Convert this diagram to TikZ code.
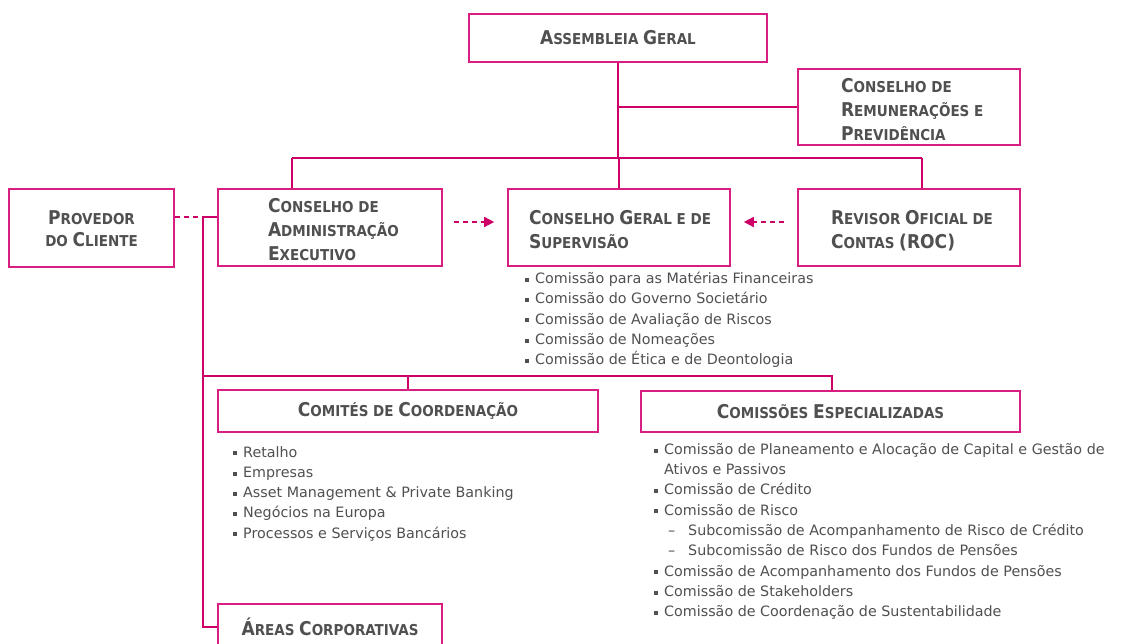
\documentclass[tikz,border=0pt]{standalone}
\usepackage{fontspec}
\setmainfont{DejaVu Sans}
\newfontfamily\ttlf{DejaVu Sans Condensed}
\usetikzlibrary{arrows.meta}
\definecolor{mag}{RGB}{204,0,102}
\definecolor{boxc}{RGB}{216,30,128}
\definecolor{txt}{RGB}{80,80,80}
\newcommand\BC[1]{{\fontsize{19}{24}\selectfont #1}}
\newcommand\itm{\makebox[10pt][l]{\rule[1.8pt]{4pt}{4pt}}}
\newcommand\subitm{\makebox[34pt][l]{\hspace*{14pt}\textendash}}
\newcommand\lbox[2]{\makebox[#1][l]{\begin{tabular}[t]{@{}l@{}}#2\end{tabular}}}
\newcommand\cbox[1]{\begin{tabular}{@{}c@{}}\rule{0pt}{21.5pt}#1\end{tabular}}
\begin{document}
\begin{tikzpicture}[x=1pt,y=-1pt,
 box/.style={draw=boxc, line width=1.6pt, text=txt, fill=white,
   font=\ttlf\bfseries\fontsize{15}{24}\selectfont, inner sep=0pt},
 two/.style={text height=16.8pt, text depth=22.2pt},
 three/.style={text height=16.8pt, text depth=46.2pt},
 ln/.style={draw=mag, line width=2.4pt},
 dln/.style={draw=mag, line width=1.5pt, dash pattern=on 5pt off 4pt},
 darr/.style={dln, -{Triangle[length=10pt,width=10pt]}},
 lst/.style={text=txt, font=\fontsize{14.3}{20.3}\selectfont, align=left,
   anchor=north west, inner sep=0pt}]
\useasboundingbox (0,0) rectangle (1122,644);
\clip (0,0) rectangle (1122,644);
\fill[white] (0,0) rectangle (1122,644);

% boxes
\node[box, minimum width=298pt, minimum height=48pt, align=center] (ag) at (618,38)
  {\BC{A}SSEMBLEIA \BC{G}ERAL};
\node[box, three, minimum width=222pt, minimum height=76pt] (crp) at (909,107)
  {\lbox{136pt}{\BC{C}ONSELHO DE\\\BC{R}EMUNERAÇÕES E\\\BC{P}REVIDÊNCIA}};
\node[box, minimum width=165pt, minimum height=78pt] (prov) at (91.5,228)
  {\fontsize{15}{22}\selectfont\cbox{\BC{P}ROVEDOR\\DO \BC{C}LIENTE}};
\node[box, three, minimum width=224pt, minimum height=77pt] (ca) at (330,227.5)
  {\lbox{124pt}{\BC{C}ONSELHO DE\\\BC{A}DMINISTRAÇÃO\\\BC{E}XECUTIVO}};
\node[box, two, minimum width=222pt, minimum height=77pt] (cgs) at (619,227.5)
  {\lbox{180pt}{\BC{C}ONSELHO \BC{G}ERAL E DE\\\BC{S}UPERVISÃO}};
\node[box, two, minimum width=222pt, minimum height=77pt] (roc) at (909,227.5)
  {\lbox{156pt}{\BC{R}EVISOR \BC{O}FICIAL DE\\\BC{C}ONTAS \BC{(ROC)}}};
\node[box, minimum width=380pt, minimum height=42pt, align=center] (ct) at (408,411)
  {\BC{C}OMITÉS DE \BC{C}OORDENAÇÃO};
\node[box, minimum width=379pt, minimum height=41pt, align=center] (ce) at (830.5,411.5)
  {\BC{C}OMISSÕES \BC{E}SPECIALIZADAS};
\node[box, minimum width=224pt, minimum height=46pt, align=center] (ac) at (330,627)
  {\BC{Á}REAS \BC{C}ORPORATIVAS};

% lists
\node[lst] (cgsl) at (525,272) {\itm Comissão para as Matérias Financeiras\\
\itm Comissão do Governo Societário\\
\itm Comissão de Avaliação de Riscos\\
\itm Comissão de Nomeações\\
\itm Comissão de Ética e de Deontologia};
\node[lst] (ctl) at (233,446) {\itm Retalho\\
\itm Empresas\\
\itm Asset Management \& Private Banking\\
\itm Negócios na Europa\\
\itm Processos e Serviços Bancários};
\node[lst] (cel) at (654,443) {\itm Comissão de Planeamento e Alocação de Capital e Gestão de\\
\hspace*{10pt}Ativos e Passivos\\
\itm Comissão de Crédito\\
\itm Comissão de Risco\\
\subitm Subcomissão de Acompanhamento de Risco de Crédito\\
\subitm Subcomissão de Risco dos Fundos de Pensões\\
\itm Comissão de Acompanhamento dos Fundos de Pensões\\
\itm Comissão de Stakeholders\\
\itm Comissão de Coordenação de Sustentabilidade};

% connectors
\coordinate (jL) at (292,158);
\coordinate (jR) at (922,158);
\coordinate (pj) at (203,217);
\coordinate (hb) at (832,376);
\draw[ln] (ag.south) -- (ag.south |- jL);
\draw[ln] (ag.south |- crp.west) -- (crp.west);
\draw[ln] (jL) -- (jR);
\draw[ln] (jL) -- (jL |- ca.north);
\draw[ln] (cgs.north |- jL) -- (cgs.north);
\draw[ln] (jR) -- (jR |- roc.north);
\draw[dln] (prov.east |- pj) -- (pj);
\draw[ln] (pj) -- (pj -| ca.west);
\draw[ln] (pj) -- (pj |- ac.west) -- (ac.west);
\draw[ln] (pj |- hb) -- (hb) -- (hb |- ce.north);
\draw[ln] (ct.north |- hb) -- (ct.north);
\draw[darr, shorten <=11pt, shorten >=13pt] ([yshift=5.5pt]ca.east) -- ([yshift=5.5pt]cgs.west);
\draw[darr, shorten <=13pt, shorten >=13pt] ([yshift=5.5pt]roc.west) -- ([yshift=5.5pt]cgs.east);
\end{tikzpicture}
\end{document}
